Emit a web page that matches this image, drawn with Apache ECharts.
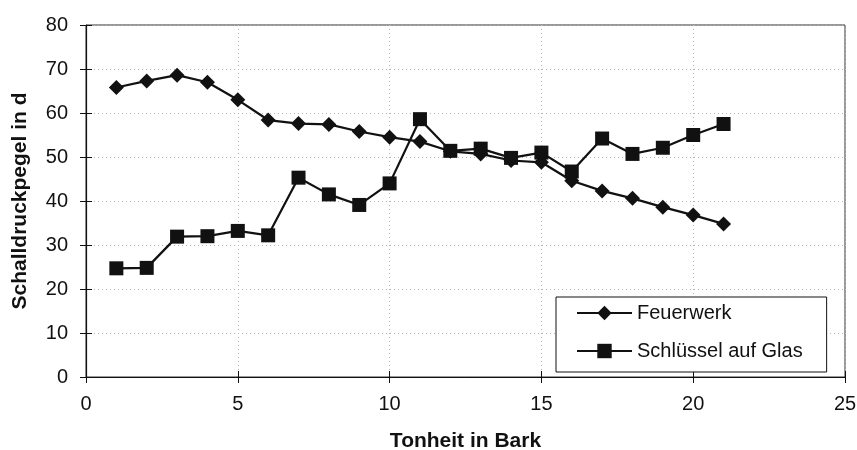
<!DOCTYPE html>
<html>
<head>
<meta charset="utf-8">
<script src="https://cdn.jsdelivr.net/npm/echarts@6/dist/echarts.min.js"></script>
<style>
  html, body { margin: 0; padding: 0; background: #fff; }
  #chart { width: 857px; height: 450px; }
</style>
</head>
<body>
<div id="chart"></div>
<script>
// Tonheit (Bark) for each measurement
const bark = [1, 2, 3, 4, 5, 6, 7, 8, 9, 10, 11, 12, 13, 14, 15, 16, 17, 18, 19, 20, 21];
// Schalldruckpegel per series
const feuerwerk = [65.8, 67.3, 68.6, 67.0, 63.0, 58.4, 57.6, 57.4, 55.8, 54.5, 53.5, 51.3, 50.7, 49.2, 48.8, 44.6, 42.3, 40.6, 38.6, 36.8, 34.8];
const schluessel = [24.7, 24.8, 31.9, 32.0, 33.2, 32.2, 45.3, 41.5, 39.1, 44.0, 58.6, 51.4, 51.9, 49.8, 51.0, 46.7, 54.2, 50.7, 52.1, 55.0, 57.5];
const seriesNames = ['Feuerwerk', 'Schlüssel auf Glas'];
const xTitle = 'Tonheit in Bark';
const yTitle = 'Schalldruckpegel in d';

const font = '"Liberation Sans", Arial, sans-serif';
const ink = '#111';

const pairs = (xs, ys) => xs.map((x, i) => [x, ys[i]]);

const chart = echarts.init(document.getElementById('chart'), null, { renderer: 'canvas' });

const gridDotted = { show: true, lineStyle: { color: '#b5b5b5', type: [1, 3], width: 1 } };

chart.setOption({
  animation: false,
  backgroundColor: '#fff',
  grid: {
    left: 86, right: 12, top: 25, bottom: 73,
    outerBoundsMode: 'none',
    containLabel: false,
    show: true, borderColor: '#333', borderWidth: 1
  },
  legend: {
    orient: 'vertical',
    left: 556, top: 297,
    padding: [6, 24, 11, 20],
    itemGap: 18,
    itemWidth: 55, itemHeight: 18,
    backgroundColor: '#fff',
    borderColor: ink, borderWidth: 1,
    textStyle: { fontFamily: font, fontSize: 20, color: ink },
    data: seriesNames
  },
  xAxis: [{
    type: 'value', min: 0, max: 25, interval: 5,
    name: xTitle, nameLocation: 'middle', nameGap: 54,
    nameTextStyle: { fontFamily: font, fontSize: 21, fontWeight: 'bold', color: ink },
    axisLine: { show: true, lineStyle: { color: ink, width: 1.2 } },
    axisTick: { show: true, length: 6, lineStyle: { color: ink } },
    axisLabel: { fontFamily: font, fontSize: 20, color: ink, margin: 17 },
    splitLine: gridDotted
  }, {
    type: 'value', min: 0, max: 25, interval: 5, position: 'bottom',
    axisLine: { show: false },
    axisTick: { show: true, inside: true, length: 6, lineStyle: { color: ink } },
    axisLabel: { show: false }, splitLine: { show: false }
  }],
  yAxis: [{
    type: 'value', min: 0, max: 80, interval: 10,
    name: yTitle, nameLocation: 'middle', nameGap: 55, nameRotate: 90,
    nameTextStyle: { fontFamily: font, fontSize: 21, fontWeight: 'bold', color: ink },
    axisLine: { show: true, lineStyle: { color: ink, width: 1.2 } },
    axisTick: { show: true, length: 6, lineStyle: { color: ink } },
    axisLabel: { fontFamily: font, fontSize: 20, color: ink, margin: 18 },
    splitLine: gridDotted
  }, {
    type: 'value', min: 0, max: 80, interval: 10, position: 'left',
    axisLine: { show: false },
    axisTick: { show: true, inside: true, length: 6, lineStyle: { color: ink } },
    axisLabel: { show: false }, splitLine: { show: false }
  }],
  series: [{
    name: seriesNames[0],
    type: 'line',
    data: pairs(bark, feuerwerk),
    symbol: 'diamond', symbolSize: 15,
    lineStyle: { color: ink, width: 2.2 },
    itemStyle: { color: ink },
    z: 3
  }, {
    name: seriesNames[1],
    type: 'line',
    data: pairs(bark, schluessel),
    symbol: 'rect', symbolSize: 14,
    lineStyle: { color: ink, width: 2.2 },
    itemStyle: { color: ink },
    z: 4
  }]
});
</script>
</body>
</html>
